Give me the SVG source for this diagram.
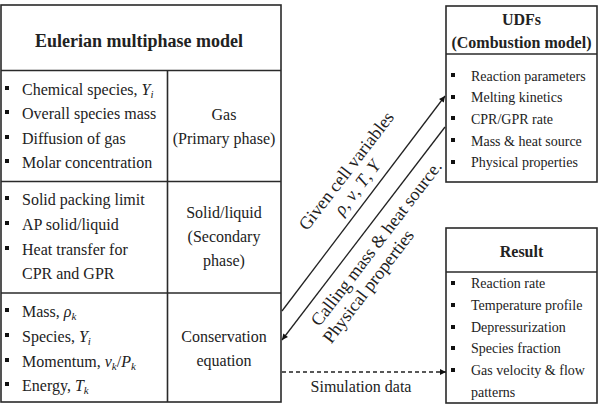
<svg xmlns="http://www.w3.org/2000/svg" width="599" height="406" viewBox="0 0 599 406" font-family="'Liberation Serif', 'DejaVu Serif', serif">
<defs>
<style>
.box{fill:#fff;stroke:#2a2a2a;stroke-width:1.6}
.ln{stroke:#2a2a2a;stroke-width:1.6;fill:none}
text{font-family:'Liberation Serif','DejaVu Serif',serif;fill:#222}
.it{font-size:16px}
.sm{font-size:14px}
.hd{font-weight:bold}
.c{text-anchor:middle}
.rot{font-size:18px}
.bul{fill:#111}
.conn{stroke:#222;stroke-width:1.3;fill:none}
.dash{stroke-dasharray:4 3}
.m{font-style:italic}
</style>
<marker id="ah" viewBox="0 0 10 10" refX="10" refY="5" markerWidth="7" markerHeight="6" markerUnits="userSpaceOnUse" orient="auto">
<path d="M0,0 L10,5 L0,10 z" fill="#111"/>
</marker>
</defs>

<g id="eulerian">
<rect class="box" x="1" y="5" width="280" height="397"/>
<line class="ln" x1="1" y1="70.5" x2="281" y2="70.5"/>
<line class="ln" x1="1" y1="181.5" x2="281" y2="181.5"/>
<line class="ln" x1="1" y1="293" x2="281" y2="293"/>
<line class="ln" x1="167.5" y1="70.5" x2="167.5" y2="402"/>
<text class="hd c" x="139" y="47" font-size="18">Eulerian multiphase model</text>
</g>

<g id="gas">
<rect class="bul" x="5" y="86" width="4" height="4"/>
<rect class="bul" x="5" y="110" width="4" height="4"/>
<rect class="bul" x="5" y="135" width="4" height="4"/>
<rect class="bul" x="5" y="159" width="4" height="4"/>
<text class="it" x="22" y="95">Chemical species, <tspan class="m">Y</tspan><tspan class="m" font-size="11" dy="3">i</tspan></text>
<text class="it" x="22" y="119">Overall species mass</text>
<text class="it" x="22" y="144">Diffusion of gas</text>
<text class="it" x="22" y="168">Molar concentration</text>
<text class="it c" x="224" y="120">Gas</text>
<text class="it c" x="224" y="144">(Primary phase)</text>
</g>

<g id="solid">
<rect class="bul" x="5" y="196" width="4" height="4"/>
<rect class="bul" x="5" y="221" width="4" height="4"/>
<rect class="bul" x="5" y="246" width="4" height="4"/>
<text class="it" x="22" y="205">Solid packing limit</text>
<text class="it" x="22" y="230">AP solid/liquid</text>
<text class="it" x="22" y="255">Heat transfer for</text>
<text class="it" x="22" y="279">CPR and GPR</text>
<text class="it c" x="224" y="218">Solid/liquid</text>
<text class="it c" x="224" y="242">(Secondary</text>
<text class="it c" x="224" y="266">phase)</text>
</g>

<g id="conservation">
<rect class="bul" x="5" y="308" width="4" height="4"/>
<rect class="bul" x="5" y="333" width="4" height="4"/>
<rect class="bul" x="5" y="358" width="4" height="4"/>
<rect class="bul" x="5" y="382" width="4" height="4"/>
<text class="it" x="22" y="317">Mass, <tspan class="m">ρ</tspan><tspan class="m" font-size="11" dy="3">k</tspan></text>
<text class="it" x="22" y="342">Species, <tspan class="m">Y</tspan><tspan class="m" font-size="11" dy="3">i</tspan></text>
<text class="it" x="22" y="367">Momentum, <tspan class="m">v</tspan><tspan class="m" font-size="11" dy="3">k</tspan><tspan dy="-3">/</tspan><tspan class="m">P</tspan><tspan class="m" font-size="11" dy="3">k</tspan></text>
<text class="it" x="22" y="391">Energy, <tspan class="m">T</tspan><tspan class="m" font-size="11" dy="3">k</tspan></text>
<text class="it c" x="224" y="342">Conservation</text>
<text class="it c" x="224" y="366">equation</text>
</g>

<g id="udfs">
<rect class="box" x="446" y="6" width="151" height="176"/>
<line class="ln" x1="446" y1="54" x2="597" y2="54"/>
<text class="hd c" x="521.5" y="25" font-size="16">UDFs</text>
<text class="hd c" x="521.5" y="48" font-size="16">(Combustion model)</text>
<rect class="bul" x="451" y="73" width="4" height="4"/>
<rect class="bul" x="451" y="95" width="4" height="4"/>
<rect class="bul" x="451" y="116" width="4" height="4"/>
<rect class="bul" x="451" y="138" width="4" height="4"/>
<rect class="bul" x="451" y="160" width="4" height="4"/>
<text class="sm" x="471" y="81">Reaction parameters</text>
<text class="sm" x="471" y="102">Melting kinetics</text>
<text class="sm" x="471" y="124">CPR/GPR rate</text>
<text class="sm" x="471" y="146">Mass &amp; heat source</text>
<text class="sm" x="471" y="167">Physical properties</text>
</g>

<g id="result">
<rect class="box" x="446" y="228" width="151" height="175"/>
<line class="ln" x1="446" y1="272" x2="597" y2="272"/>
<text class="hd c" x="521.5" y="257" font-size="16">Result</text>
<rect class="bul" x="451" y="281" width="4" height="4"/>
<rect class="bul" x="451" y="303" width="4" height="4"/>
<rect class="bul" x="451" y="325" width="4" height="4"/>
<rect class="bul" x="451" y="346" width="4" height="4"/>
<rect class="bul" x="451" y="368" width="4" height="4"/>
<text class="sm" x="471" y="288">Reaction rate</text>
<text class="sm" x="471" y="310">Temperature profile</text>
<text class="sm" x="471" y="332">Depressurization</text>
<text class="sm" x="471" y="353">Species fraction</text>
<text class="sm" x="471" y="375">Gas velocity &amp; flow</text>
<text class="sm" x="471" y="397">patterns</text>
</g>

<g id="connectors">
<line class="conn" x1="282" y1="311" x2="445" y2="96" marker-end="url(#ah)"/>
<line class="conn" x1="445" y1="127" x2="282" y2="340" marker-end="url(#ah)"/>
<line class="conn dash" x1="282" y1="372" x2="446" y2="372" marker-end="url(#ah)"/>
<text class="rot c" transform="translate(351,174.5) rotate(-52.5)">Given cell variables</text>
<text class="rot c" transform="translate(362,191) rotate(-52.5)"><tspan class="m">ρ</tspan>, <tspan class="m">v</tspan>, <tspan class="m">T</tspan>, <tspan class="m">Y</tspan></text>
<text class="rot c" transform="translate(381,247) rotate(-52.5)">Calling mass &amp; heat source.</text>
<text class="rot c" transform="translate(373,290) rotate(-52.5)">Physical properties</text>
<text class="it c" x="361" y="392">Simulation data</text>
</g>
</svg>
